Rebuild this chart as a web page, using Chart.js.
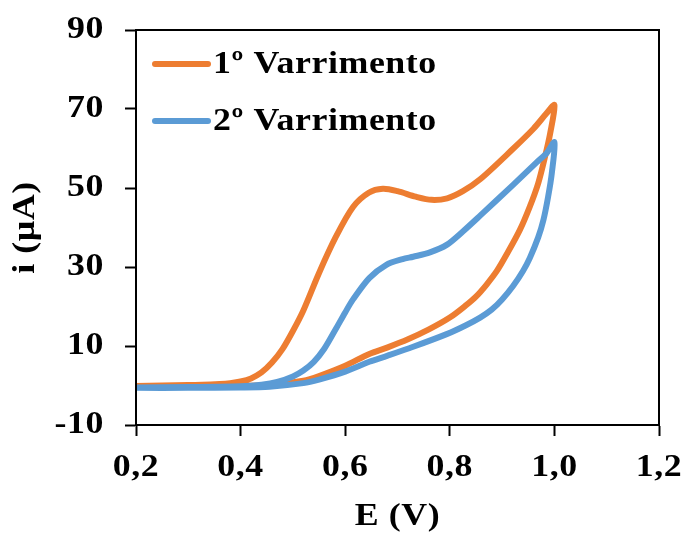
<!DOCTYPE html>
<html>
<head>
<meta charset="utf-8">
<script src="https://cdn.jsdelivr.net/npm/chart.js@4/dist/chart.umd.min.js"></script>
<style>html,body{margin:0;padding:0;background:#fff}canvas{display:block}</style>
</head>
<body>
<canvas id="c" width="684" height="538"></canvas>
<script>
// ---- data ----
const seriesNames = ['1º Varrimento', '2º Varrimento'];

// 1st scan: forward (0.2 -> 1.0) then reverse (1.0 -> 0.2)
const scan1E = [0.20, 0.30, 0.36, 0.38, 0.40, 0.42, 0.44, 0.46, 0.48, 0.50, 0.52, 0.55, 0.582, 0.615, 0.645, 0.672, 0.70, 0.735, 0.765, 0.795, 0.825, 0.858, 0.92, 0.96, 0.985, 1.00,
                0.992, 0.982, 0.969, 0.953, 0.934, 0.91, 0.89, 0.87, 0.85, 0.83, 0.80, 0.76, 0.72, 0.68, 0.646, 0.60, 0.55, 0.52, 0.455, 0.40, 0.30, 0.20];
const scan1I = [-0.1, 0.1, 0.4, 0.6, 1.0, 1.8, 3.3, 5.8, 9.2, 13.8, 19.0, 28.5, 37.6, 45.2, 48.8, 49.8, 49.2, 47.8, 47.0, 47.4, 49.2, 52.2, 59.8, 65.0, 68.9, 71.0,
                63.9, 57.9, 51.2, 45.3, 39.4, 33.5, 29.0, 25.5, 22.5, 20.2, 17.2, 14.2, 11.7, 9.6, 8.0, 5.0, 2.4, 1.2, 0.1, -0.1, -0.2, -0.3];

// 2nd scan
const scan2E = [0.20, 0.30, 0.40, 0.44, 0.47, 0.50, 0.52, 0.54, 0.56, 0.582, 0.60, 0.615, 0.646, 0.678, 0.71, 0.73, 0.762, 0.794, 0.825, 0.858, 0.921, 0.966, 0.985, 1.00,
                0.995, 0.988, 0.979, 0.969, 0.953, 0.94, 0.921, 0.90, 0.88, 0.858, 0.83, 0.794, 0.73, 0.68, 0.646, 0.60, 0.55, 0.52, 0.455, 0.40, 0.30, 0.20];
const scan2I = [-0.5, -0.4, -0.2, 0.2, 0.9, 2.3, 3.8, 6.0, 9.3, 14.3, 18.5, 21.8, 27.2, 30.5, 32.0, 32.6, 33.7, 35.6, 39.0, 43.0, 50.8, 56.5, 58.8, 61.6,
                53.7, 47.8, 41.9, 37.5, 32.3, 29.0, 25.2, 21.8, 19.2, 17.2, 15.2, 13.0, 9.8, 7.5, 6.0, 3.5, 1.5, 0.6, -0.3, -0.5, -0.6, -0.6];

const xTickValues = [0.2, 0.4, 0.6, 0.8, 1.0, 1.2];
const xTickLabels = ['0,2', '0,4', '0,6', '0,8', '1,0', '1,2'];
const yTickValues = [-10, 10, 30, 50, 70, 90];
const yTickLabels = ['-10', '10', '30', '50', '70', '90'];
const xTitle = 'E (V)';
const yTitle = 'i (µA)';

// ---- chart ----
const toPoints = (E, I) => E.map((e, k) => ({x: e, y: I[k]}));
const FONT = "'Liberation Serif', 'Times New Roman', serif";
const FONT_SIZE = 32;
const SPACING = '0.5px';
const STRETCH = 1.12; // the reference type is set wide

function prepareContext(ctx) {
  ctx.letterSpacing = SPACING;
  if (ctx.__wide) return;
  ctx.__wide = true;
  const base = CanvasRenderingContext2D.prototype.fillText;
  ctx.fillText = function (text, x, y, maxWidth) {
    this.save();
    this.translate(x, y);
    this.scale(STRETCH, 1);
    if (maxWidth === undefined) base.call(this, text, 0, 0);
    else base.call(this, text, 0, 0, maxWidth / STRETCH);
    this.restore();
  };
}

const framePlugin = {
  id: 'frameLegend',
  beforeUpdate(chart) { prepareContext(chart.ctx); },
  beforeDraw(chart) { prepareContext(chart.ctx); },
  afterDraw(chart) {
    const {ctx, chartArea: a} = chart;
    ctx.save();
    ctx.strokeStyle = '#000';
    ctx.lineWidth = 2;
    ctx.strokeRect(a.left, a.top, a.right - a.left, a.bottom - a.top);
    ctx.font = 'bold ' + FONT_SIZE + 'px ' + FONT;
    ctx.letterSpacing = SPACING;
    ctx.textBaseline = 'middle';
    ctx.textAlign = 'left';
    chart.data.datasets.forEach((ds, k) => {
      const y = a.top + 34 + k * 57;
      ctx.strokeStyle = ds.borderColor;
      ctx.lineWidth = 6;
      ctx.lineCap = 'round';
      ctx.beginPath();
      ctx.moveTo(a.left + 19, y);
      ctx.lineTo(a.left + 72, y);
      ctx.stroke();
      ctx.fillStyle = '#000';
      ctx.fillText(ds.label, a.left + 77, y + 1);
    });
    ctx.restore();
  }
};

Chart.defaults.font.family = FONT;
Chart.defaults.font.weight = 'bold';
Chart.defaults.font.size = FONT_SIZE;
Chart.defaults.color = '#000';

new Chart(document.getElementById('c'), {
  type: 'scatter',
  data: {
    datasets: [
      {label: seriesNames[0], data: toPoints(scan1E, scan1I), borderColor: '#ED7D31', backgroundColor: '#ED7D31', order: 2},
      {label: seriesNames[1], data: toPoints(scan2E, scan2I), borderColor: '#5B9BD5', backgroundColor: '#5B9BD5', order: 1}
    ]
  },
  options: {
    responsive: false,
    animation: false,
    devicePixelRatio: 1,
    layout: {padding: {top: 30, right: 25, left: 0, bottom: 0}},
    elements: {
      line: {borderWidth: 6, tension: 0.3, borderCapStyle: 'round', borderJoinStyle: 'round', fill: false},
      point: {radius: 0, hoverRadius: 0}
    },
    datasets: {scatter: {showLine: true, clip: {left: 0, top: 4, right: 4, bottom: 4}}},
    plugins: {legend: {display: false}, tooltip: {enabled: false}},
    scales: {
      x: {
        type: 'linear', position: 'bottom', min: 0.2, max: 1.2,
        afterBuildTicks: ax => { ax.ticks = xTickValues.map(v => ({value: v})); },
        afterFit: ax => { ax.height = 113; ax.paddingLeft = 0; ax.paddingRight = 0; },
        ticks: {padding: 13, maxRotation: 0, autoSkip: false, callback: (v, i) => xTickLabels[i]},
        grid: {drawOnChartArea: false, drawTicks: true, tickLength: 11, tickColor: '#000', tickWidth: 2},
        border: {display: true, color: '#000', width: 2},
        title: {display: true, text: xTitle, padding: {top: 0, bottom: 2}}
      },
      y: {
        type: 'linear', position: 'left', min: -10, max: 90,
        afterBuildTicks: ax => { ax.ticks = yTickValues.map(v => ({value: v})); },
        afterFit: ax => { ax.width = 136; ax.paddingTop = 0; ax.paddingBottom = 0; },
        ticks: {padding: 21, autoSkip: false, callback: (v, i) => yTickLabels[i]},
        grid: {drawOnChartArea: false, drawTicks: true, tickLength: 11, tickColor: '#000', tickWidth: 2},
        border: {display: true, color: '#000', width: 2},
        title: {display: true, text: yTitle, padding: {top: 7, bottom: 0}}
      }
    }
  },
  plugins: [framePlugin]
});
</script>
</body>
</html>
